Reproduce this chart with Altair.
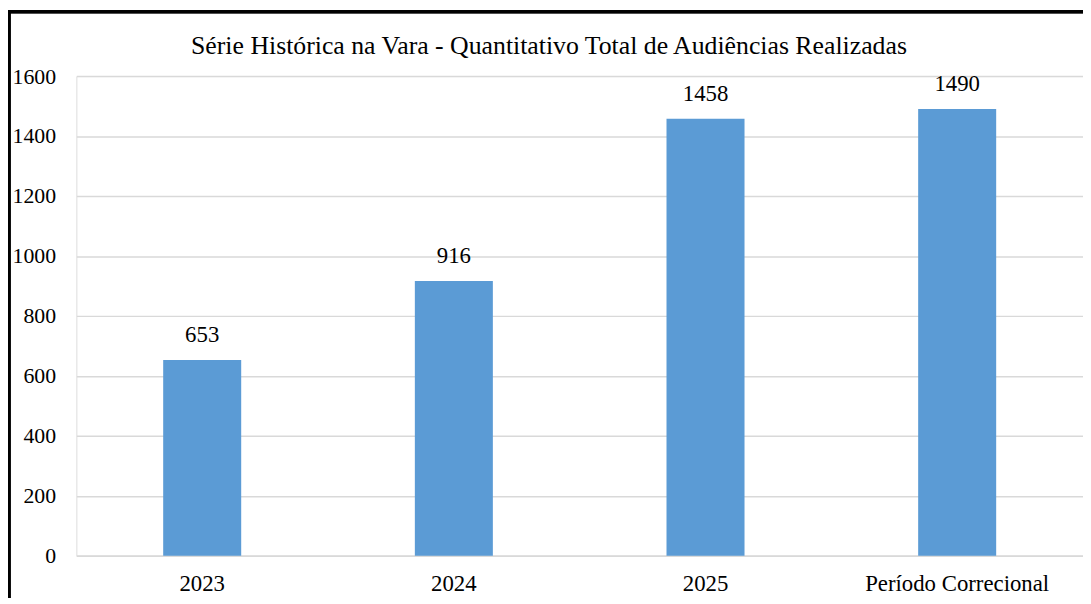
import altair as alt
import pandas as pd

categories = ["2023", "2024", "2025", "Período Correcional"]
values = [653, 916, 1458, 1490]
title_text = "Série Histórica na Vara - Quantitativo Total de Audiências Realizadas"

df = pd.DataFrame({"cat": categories, "val": values})

FONT = "Liberation Serif"
PAD_L, PAD_T = 69, 66
W, H = 1016, 484

x = alt.X("cat:N", sort=categories, title=None,
          scale=alt.Scale(paddingInner=0.69, paddingOuter=0.345),
          axis=alt.Axis(labelAngle=0, labelFont=FONT, labelFontSize=23, labelColor="#000000",
                        labelLimit=0, ticks=False, domain=True, domainColor="#d9d9d9", domainWidth=1.5,
                        labelPadding=17))
y = alt.Y("val:Q", title=None,
          scale=alt.Scale(domain=[0, 1600], nice=False),
          axis=alt.Axis(values=list(range(0, 1601, 200)), format="d", labelFont=FONT, labelFontSize=22,
                        labelColor="#000000", ticks=False, domain=False, gridColor="#d9d9d9",
                        gridWidth=1.5, labelPadding=21))

base = alt.Chart(df)
bars = base.mark_bar(color="#5B9BD5").encode(x=x, y=y)
labels = base.mark_text(font=FONT, fontSize=23, color="#000000", baseline="alphabetic", dy=-18).encode(
    x=alt.X("cat:N", sort=categories), y="val:Q", text="val:Q")

title = alt.Chart(pd.DataFrame({"t": [title_text]})).mark_text(
    font=FONT, fontSize=26, color="#000000", baseline="middle", align="center").encode(
    x=alt.value(W / 2 - 31), y=alt.value(-30), text="t:N")

border_top = alt.Chart(df).mark_rule(color="#000000", strokeWidth=3).encode(
    x=alt.value(-PAD_L), x2=alt.value(W + 10), y=alt.value(-PAD_T + 1))
border_left = alt.Chart(df).mark_rule(color="#000000", strokeWidth=3).encode(
    x=alt.value(-PAD_L + 1), y=alt.value(-PAD_T), y2=alt.value(H + 60))

chart = alt.layer(bars, labels, title, border_top, border_left).properties(
    width=W, height=H,
    padding={"left": PAD_L, "top": PAD_T, "right": 0, "bottom": 40},
    autosize=alt.AutoSizeParams(type="none"),
).configure_view(stroke=None).configure(background="#ffffff")

chart.save("out.html", embed_options={"renderer": "svg", "actions": False})
